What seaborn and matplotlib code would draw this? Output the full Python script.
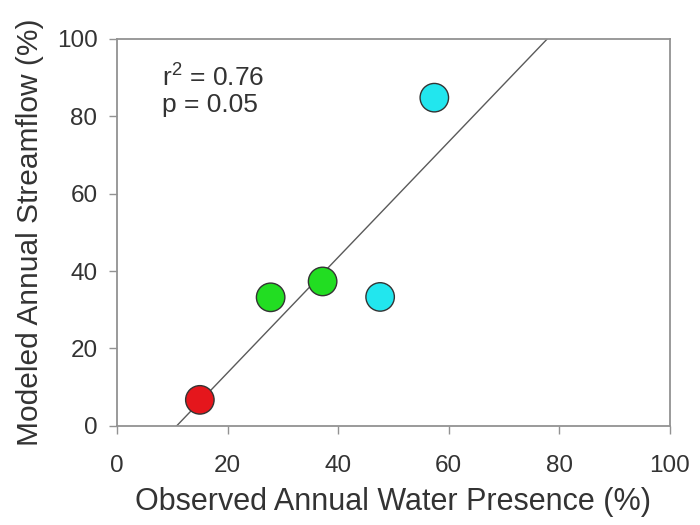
import numpy as np
import pandas as pd
import matplotlib
matplotlib.use("Agg")
import matplotlib.pyplot as plt
import seaborn as sns

# Observed water presence vs modeled streamflow (%) per site
observed = [15.0, 27.8, 37.2, 47.6, 57.4]
modeled = [6.7, 33.2, 37.3, 33.3, 84.8]
group = ["red", "green", "green", "cyan", "cyan"]
group_colors = {"red": "#e5161c", "green": "#22dd22", "cyan": "#22e6ee"}
ticks = [0, 20, 40, 60, 80, 100]
stats_text = "r$^2$ = 0.76\np = 0.05"

df = pd.DataFrame({"observed": observed, "modeled": modeled, "group": group})

sns.set_style("white")
plt.rcParams["font.family"] = ["Liberation Sans", "DejaVu Sans"]
plt.rcParams["mathtext.default"] = "regular"

fig = plt.figure(figsize=(7, 5.25), dpi=100)
ax = fig.add_axes([0.167, 0.189, 0.790, 0.737])
ax.set_xlim(0, 100)
ax.set_ylim(0, 100)

# least-squares line across the full x range, clipped by the axes
sns.regplot(data=df, x="observed", y="modeled", ax=ax, scatter=False, ci=None,
            truncate=False, line_kws={"color": "#5a5a5a", "lw": 1.0, "zorder": 2})

sns.scatterplot(data=df, x="observed", y="modeled", hue="group", palette=group_colors,
                s=420, edgecolor="#333333", linewidth=1.0, legend=False, ax=ax, zorder=3)

ax.set_xlim(0, 100)
ax.set_ylim(0, 100)
ax.set_xticks(ticks)
ax.set_yticks(ticks)

grey = "#929292"
for side in ["left", "right", "top", "bottom"]:
    ax.spines[side].set_visible(True)
    ax.spines[side].set_color(grey)
    ax.spines[side].set_linewidth(1.3)
ax.tick_params(axis="both", direction="out", length=6, width=1.0, color=grey,
               labelsize=17.5, labelcolor="#333333", bottom=True, left=True)
ax.tick_params(axis="x", pad=15)
ax.tick_params(axis="y", pad=8)

ax.set_xlabel("Observed Annual Water Presence (%)", fontsize=22, color="#333333", labelpad=7)
ax.set_ylabel("Modeled Annual Streamflow (%)", fontsize=21.5, color="#333333", labelpad=9)

ax.text(0.081, 0.934, stats_text, transform=ax.transAxes, fontsize=19,
        color="#333333", va="top", ha="left", linespacing=1.05)

fig.savefig("out.png", dpi=100)
